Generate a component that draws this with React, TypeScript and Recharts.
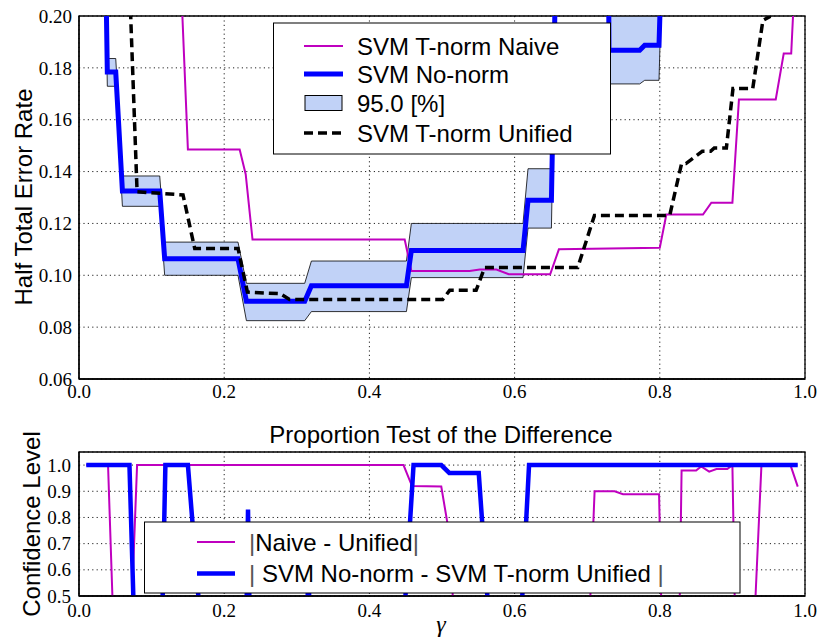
import React from "react";
import {
  ComposedChart,
  Line,
  Area,
  XAxis,
  YAxis,
  CartesianGrid,
  ReferenceArea,
} from "recharts";

// ---- top panel: half total error rate vs gamma ----
const noNormGamma = [0.037, 0.039, 0.0506, 0.0598, 0.1112, 0.118, 0.219, 0.2306, 0.3109, 0.3201, 0.451, 0.4578, 0.6116, 0.6185, 0.6507, 0.658, 0.729, 0.73, 0.7723, 0.7792, 0.7989, 0.8044];
const noNormHter = [0.215, 0.1784, 0.1784, 0.1325, 0.1325, 0.1064, 0.1064, 0.09, 0.09, 0.096, 0.096, 0.1096, 0.1096, 0.1289, 0.1289, 0.24, 0.24, 0.1868, 0.1868, 0.1887, 0.1887, 0.24];
const bandLow = [0.205, 0.1729, 0.1729, 0.1266, 0.1266, 0.1, 0.1, 0.0825, 0.0825, 0.086, 0.086, 0.0991, 0.0991, 0.1182, 0.1182, 0.23, 0.23, 0.1738, 0.1738, 0.1752, 0.1752, 0.23];
const bandHigh = [0.225, 0.1836, 0.1836, 0.1383, 0.1383, 0.1128, 0.1128, 0.0969, 0.0969, 0.1055, 0.1055, 0.12, 0.12, 0.1411, 0.1411, 0.25, 0.25, 0.21, 0.21, 0.21, 0.21, 0.25];

const naiveGamma = [0.14, 0.1424, 0.15, 0.2213, 0.2296, 0.239, 0.4486, 0.4578, 0.538, 0.552, 0.575, 0.592, 0.649, 0.661, 0.8, 0.809, 0.8595, 0.871, 0.9, 0.909, 0.9597, 0.9707, 0.981, 0.9835, 0.99];
const naiveHter = [0.216, 0.2, 0.1485, 0.1485, 0.139, 0.1138, 0.1138, 0.1017, 0.1017, 0.1022, 0.1022, 0.1004, 0.1004, 0.11, 0.1106, 0.1234, 0.1234, 0.128, 0.128, 0.1678, 0.1678, 0.1855, 0.1855, 0.2, 0.24];

const unifiedGamma = [0.066, 0.08, 0.1433, 0.1594, 0.2191, 0.232, 0.277, 0.29, 0.501, 0.5106, 0.547, 0.5588, 0.687, 0.71, 0.8137, 0.83, 0.836, 0.8585, 0.87, 0.875, 0.8917, 0.9008, 0.928, 0.942, 0.951, 0.965];
const unifiedHter = [0.24, 0.1322, 0.131, 0.1103, 0.1103, 0.0935, 0.0929, 0.0907, 0.0907, 0.0942, 0.0942, 0.103, 0.103, 0.1231, 0.1231, 0.1431, 0.1431, 0.1478, 0.1478, 0.1491, 0.1491, 0.172, 0.172, 0.1983, 0.1997, 0.215];

// ---- bottom panel: proportion test confidence ----
const diffNaiveGamma = [0.01, 0.04, 0.0496, 0.069, 0.08, 0.447, 0.4587, 0.499, 0.511, 0.52, 0.7, 0.7102, 0.7378, 0.7493, 0.799, 0.804, 0.826, 0.83, 0.85, 0.857, 0.868, 0.878, 0.893, 0.9, 0.905, 0.927, 0.94, 0.98, 0.99];
const diffNaiveConf = [1.0, 1.0, 0.2, 0.2, 1.0, 1.0, 0.92, 0.918, 0.72, 0.2, 0.2, 0.9, 0.9, 0.889, 0.889, 0.2, 0.2, 0.979, 0.979, 0.995, 0.975, 0.985, 0.985, 1.0, 0.2, 0.2, 1.0, 1.0, 0.918];

const diffNoNormGamma = [0.01, 0.0695, 0.078, 0.113, 0.119, 0.15, 0.173, 0.2295, 0.2328, 0.2362, 0.312, 0.316, 0.32, 0.443, 0.4608, 0.499, 0.51, 0.5506, 0.57, 0.605, 0.6199, 0.99];
const diffNoNormConf = [1.0, 1.0, 0.2, 0.2, 1.0, 1.0, 0.2, 0.2, 0.83, 0.2, 0.2, 0.6, 0.2, 0.2, 1.0, 1.0, 0.97, 0.97, 0.2, 0.2, 1.0, 1.0];

const xTicks = [0, 0.2, 0.4, 0.6, 0.8, 1.0];
const hterTicks = [0.06, 0.08, 0.1, 0.12, 0.14, 0.16, 0.18, 0.2];
const confTicks = [0.5, 0.6, 0.7, 0.8, 0.9, 1.0];

const noNormRows = noNormGamma.map((g, i) => ({
  g,
  no: noNormHter[i],
  band: [bandLow[i], bandHigh[i]],
}));
const naiveRows = naiveGamma.map((g, i) => ({ g, v: naiveHter[i] }));
const unifiedRows = unifiedGamma.map((g, i) => ({ g, v: unifiedHter[i] }));
const diffNaiveRows = diffNaiveGamma.map((g, i) => ({ g, v: diffNaiveConf[i] }));
const diffNoNormRows = diffNoNormGamma.map((g, i) => ({ g, v: diffNoNormConf[i] }));

const MAGENTA = "#BF00BF";
const BLUE = "#0000FF";
const BAND = "#C1D2F7";
const SANS = "'Liberation Sans', Arial, sans-serif";
const serifText = { fontFamily: "'Liberation Serif', 'DejaVu Serif', serif", fontSize: 19, fill: "#000" };
const axisLine = { stroke: "#000", strokeWidth: 1.3 };

const makeXTick = (digits: number) => (props: any) => (
  <text x={props.x} y={props.y} dy="0.72em" textAnchor="middle" style={serifText}>
    {Number(props.payload.value).toFixed(digits)}
  </text>
);

const makeYTick = (digits: number) => (props: any) => (
  <text x={props.x} y={props.y} dy="0.35em" textAnchor="end" style={serifText}>
    {Number(props.payload.value).toFixed(digits)}
  </text>
);

export default function App() {
  return (
    <div style={{ position: "relative", width: 822, height: 643, background: "#fff" }}>
      <style>{"body{margin:0}"}</style>

      <div style={{ position: "absolute", left: 0, top: 0 }}>
        <ComposedChart
          width={822}
          height={410}
          data={noNormRows}
          margin={{ top: 16, right: 17, bottom: 0, left: 0 }}
        >
          <CartesianGrid stroke="#222" strokeDasharray="1.2 3.2" />
          <XAxis
            dataKey="g"
            type="number"
            domain={[0, 1]}
            ticks={xTicks}
            interval={0}
            height={31}
            tickSize={0}
            tickMargin={5}
            tickLine={false}
            axisLine={axisLine}
            tick={makeXTick(1)}
          />
          <YAxis
            type="number"
            domain={[0.06, 0.2]}
            ticks={hterTicks}
            interval={0}
            allowDataOverflow
            width={79}
            tickSize={0}
            tickMargin={7}
            tickLine={false}
            axisLine={axisLine}
            tick={makeYTick(2)}
          />
          <Area
            dataKey="band"
            type="linear"
            stroke="#000"
            strokeWidth={0.8}
            fill={BAND}
            fillOpacity={1}
            isAnimationActive={false}
          />
          <Line
            data={naiveRows}
            dataKey="v"
            type="linear"
            stroke={MAGENTA}
            strokeWidth={2}
            dot={false}
            isAnimationActive={false}
          />
          <Line
            dataKey="no"
            type="linear"
            stroke={BLUE}
            strokeWidth={5}
            dot={false}
            isAnimationActive={false}
          />
          <Line
            data={unifiedRows}
            dataKey="v"
            type="linear"
            stroke="#000"
            strokeWidth={3.5}
            strokeDasharray="9 5"
            dot={false}
            isAnimationActive={false}
          />
          <ReferenceArea x1={0} x2={1} y1={0.06} y2={0.2} fill="none" stroke="#000" strokeWidth={1.3} />
        </ComposedChart>
      </div>

      <div style={{ position: "absolute", left: 0, top: 420 }}>
        <ComposedChart
          width={822}
          height={223}
          margin={{ top: 32, right: 17, bottom: 0, left: 0 }}
        >
          <CartesianGrid stroke="#222" strokeDasharray="1.2 3.2" />
          <XAxis
            dataKey="g"
            type="number"
            domain={[0, 1]}
            ticks={xTicks}
            interval={0}
            height={47}
            tickSize={0}
            tickMargin={7}
            tickLine={false}
            axisLine={axisLine}
            tick={makeXTick(1)}
          />
          <YAxis
            type="number"
            domain={[0.5, 1.05]}
            ticks={confTicks}
            interval={0}
            allowDataOverflow
            width={79}
            tickSize={0}
            tickMargin={8}
            tickLine={false}
            axisLine={axisLine}
            tick={makeYTick(1)}
          />
          <Line
            data={diffNaiveRows}
            dataKey="v"
            type="linear"
            stroke={MAGENTA}
            strokeWidth={2}
            dot={false}
            isAnimationActive={false}
          />
          <Line
            data={diffNoNormRows}
            dataKey="v"
            type="linear"
            stroke={BLUE}
            strokeWidth={4.5}
            dot={false}
            isAnimationActive={false}
          />
          <ReferenceArea x1={0} x2={1} y1={0.5} y2={1.05} fill="none" stroke="#000" strokeWidth={1.3} />
        </ComposedChart>
      </div>

      <svg
        width={822}
        height={643}
        style={{ position: "absolute", left: 0, top: 0, pointerEvents: "none" }}
      >
        {/* axis titles */}
        <text
          transform="translate(32,197) rotate(-90)"
          textAnchor="middle"
          fontFamily={SANS}
          fontSize={24}
        >
          Half Total Error Rate
        </text>
        <text
          transform="translate(40,524) rotate(-90)"
          textAnchor="middle"
          fontFamily={SANS}
          fontSize={24}
        >
          Confidence Level
        </text>
        <text x={441} y={443} textAnchor="middle" fontFamily={SANS} fontSize={24}>
          Proportion Test of the Difference
        </text>
        <text x={441} y={632} textAnchor="middle" style={{ ...serifText, fontSize: 24, fontStyle: "italic" }}>
          γ
        </text>

        {/* top legend */}
        <rect x={273.5} y={23} width={337} height={131} fill="#fff" stroke="#000" strokeWidth={1} />
        <line x1={304} x2={343} y1={46} y2={46} stroke={MAGENTA} strokeWidth={2} />
        <line x1={304} x2={343} y1={74} y2={74} stroke={BLUE} strokeWidth={5} />
        <rect x={305} y={95.5} width={37} height={15} fill={BAND} stroke="#000" strokeWidth={1} />
        <line x1={304} x2={343} y1={133} y2={133} stroke="#000" strokeWidth={3.5} strokeDasharray="9 5" />
        <g fontFamily={SANS} fontSize={24} fill="#000">
          <text x={357} y={54.5}>SVM T-norm Naive</text>
          <text x={357} y={82.5}>SVM No-norm</text>
          <text x={357} y={111.5}>95.0 [%]</text>
          <text x={357} y={141.5}>SVM T-norm Unified</text>
        </g>

        {/* bottom legend */}
        <rect x={144.5} y={522} width={595.5} height={71} fill="#fff" stroke="#000" strokeWidth={1} />
        <line x1={197} x2={235} y1={542} y2={542} stroke={MAGENTA} strokeWidth={2} />
        <line x1={197} x2={235} y1={573.5} y2={573.5} stroke={BLUE} strokeWidth={4.5} />
        <g fontFamily={SANS} fontSize={24} fill="#000">
          <text x={249} y={550.5}>
            <tspan fill="#555" fontWeight={300}>|</tspan>Naive - Unified<tspan fill="#555" fontWeight={300}>|</tspan>
          </text>
          <text x={249} y={582}>
            <tspan fill="#555" fontWeight={300}>|</tspan> SVM No-norm - SVM T-norm Unified <tspan fill="#555" fontWeight={300}>|</tspan>
          </text>
        </g>
      </svg>
    </div>
  );
}
